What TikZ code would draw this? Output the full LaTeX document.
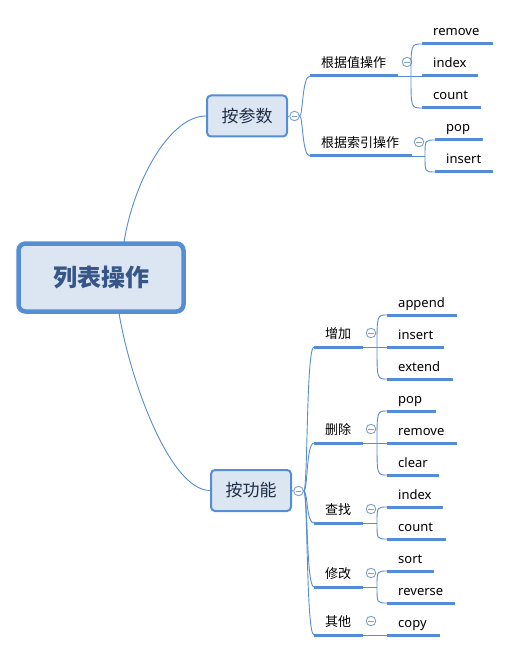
\documentclass[tikz,border=0pt]{standalone}
\usepackage{fontspec}
\setmainfont{Noto Sans}
\newfontfamily\cjk{Noto Sans CJK SC}
\definecolor{ln}{RGB}{84,141,212}
\definecolor{bfill}{RGB}{220,230,242}
\definecolor{bdraw}{RGB}{85,142,213}
\definecolor{rtxt}{RGB}{54,86,135}
\definecolor{ntxt}{RGB}{30,45,70}
\definecolor{ctrl}{RGB}{130,160,205}
\tikzset{
  conn/.style={draw=ln, line width=0.9pt},
  uline/.style={draw=ln, line width=3pt},
  leaf/.style={anchor=base west, inner sep=0pt, font=\fontsize{13}{13}\selectfont},
  subtext/.style={anchor=west, inner sep=0pt, font=\cjk\fontsize{13}{13}\selectfont},
  mainbox/.style={draw=bdraw, fill=bfill, rounded corners=4pt, line width=2pt, text=ntxt,
    minimum width=80pt, minimum height=41pt, font=\cjk\fontsize{17}{17}\selectfont},
  rootbox/.style={draw=bdraw, fill=bfill, rounded corners=7pt, line width=4.5pt, text=rtxt,
    minimum width=165pt, minimum height=68pt, font=\cjk\bfseries\fontsize{24}{24}\selectfont},
  tog/.style={circle, draw=ctrl, fill=white, minimum size=9.5pt, inner sep=0pt, line width=0.9pt,
    path picture={\draw[ctrl, line width=0.9pt] ([xshift=-2.6pt]path picture bounding box.center) -- ([xshift=2.6pt]path picture bounding box.center);}},
}
\newcommand\leafitem[5]{% name, x0, x1, y, text
  \coordinate (#1s) at (#2,#4); \coordinate (#1e) at (#3,#4);
  \draw[uline] (#1s) -- (#1e);
  \node[leaf] (#1) at ([xshift=11pt, yshift=8pt]#1s) {#5};
}
\newcommand\branchitem[6]{% name, x0, x1, y, text, toggle dx
  \coordinate (#1s) at (#2,#4); \coordinate (#1e) at (#3,#4);
  \draw[uline] (#1s) -- (#1e);
  \node[subtext] (#1) at ([xshift=11pt, yshift=13pt]#1s) {#5};
  \node[tog] (#1t) at ([xshift=#6pt, yshift=14pt]#1e) {};
}
\begin{document}
\begin{tikzpicture}[x=1pt,y=-1pt]
\useasboundingbox (0,0) rectangle (510,652);
% root and main nodes
\node[rootbox] (root) at (101,277.5) {列表操作};
\node[mainbox] (p) at (247,116) {按参数};
\node[mainbox] (f) at (251,490.5) {按功能};
\coordinate (rt) at (124,242);
\coordinate (rb) at (119,313);
\draw[conn] (rt) .. controls (134,180) and (170,116) .. (p.west);
\draw[conn] (rb) .. controls (130,380) and (170,490.5) .. (f.west);
\node[tog] (pt) at (294.5,116) {};
\node[tog] (ft) at (298.5,491) {};
\draw[conn] (p.east) -- (pt.west);
\draw[conn] (f.east) -- (ft.west);

% ---- 按参数 ----
\branchitem{v}{310}{398}{76}{根据值操作}{9}
\branchitem{i}{310}{412}{156}{根据索引操作}{7}
\draw[conn] (pt.east) .. controls (303,116) and (302,76) .. (vs);
\draw[conn] (pt.east) .. controls (303,116) and (302,156) .. (is);

\leafitem{vremove}{422}{493}{44}{remove}
\leafitem{vindex}{422}{478}{76}{index}
\leafitem{vcount}{422}{481}{108}{count}
\coordinate (vj) at (411,76);
\draw[conn] (ve) -- (vindexs);
\draw[conn] (vj) .. controls (vj |- vremoves) .. (vremoves);
\draw[conn] (vj) .. controls (vj |- vcounts) .. (vcounts);

\leafitem{ipop}{435}{483}{140}{pop}
\leafitem{iinsert}{435}{493}{172}{insert}
\coordinate (ij) at (425,156);
\draw[conn] (ie) -- (ij);
\draw[conn] (ij) .. controls (ij |- ipops) .. (ipops);
\draw[conn] (ij) .. controls (ij |- iinserts) .. (iinserts);

% ---- 按功能 ----
\branchitem{a}{314}{363}{347}{增加}{8}
\branchitem{d}{314}{363}{443}{删除}{8}
\branchitem{s}{314}{363}{523}{查找}{8}
\branchitem{m}{314}{363}{587}{修改}{8}
\branchitem{o}{314}{363}{635}{其他}{8}
\foreach \b in {a,d,s,m,o}{
  \draw[conn] (ft.east) .. controls (308,491) and (306,0 |- \b s) .. (\b s);
}

\leafitem{aappend}{387}{457}{315}{append}
\leafitem{ainsert}{387}{444}{347}{insert}
\leafitem{aextend}{387}{453}{379}{extend}
\coordinate (aj) at (377,347);
\draw[conn] (ae) -- (ainserts);
\draw[conn] (aj) .. controls (aj |- aappends) .. (aappends);
\draw[conn] (aj) .. controls (aj |- aextends) .. (aextends);

\leafitem{dpop}{387}{436}{411}{pop}
\leafitem{dremove}{387}{457}{443}{remove}
\leafitem{dclear}{387}{439}{475}{clear}
\coordinate (dj) at (377,443);
\draw[conn] (de) -- (dremoves);
\draw[conn] (dj) .. controls (dj |- dpops) .. (dpops);
\draw[conn] (dj) .. controls (dj |- dclears) .. (dclears);

\leafitem{sindex}{387}{443}{507}{index}
\leafitem{scount}{387}{446}{539}{count}
\coordinate (sj) at (377,523);
\draw[conn] (se) -- (sj);
\draw[conn] (sj) .. controls (sj |- sindexs) .. (sindexs);
\draw[conn] (sj) .. controls (sj |- scounts) .. (scounts);

\leafitem{msort}{387}{434}{571}{sort}
\leafitem{mreverse}{387}{455}{603}{reverse}
\coordinate (mj) at (377,587);
\draw[conn] (me) -- (mj);
\draw[conn] (mj) .. controls (mj |- msorts) .. (msorts);
\draw[conn] (mj) .. controls (mj |- mreverses) .. (mreverses);

\leafitem{ocopy}{387}{440}{635}{copy}
\draw[conn] (oe) -- (ocopys);
\end{tikzpicture}
\end{document}
